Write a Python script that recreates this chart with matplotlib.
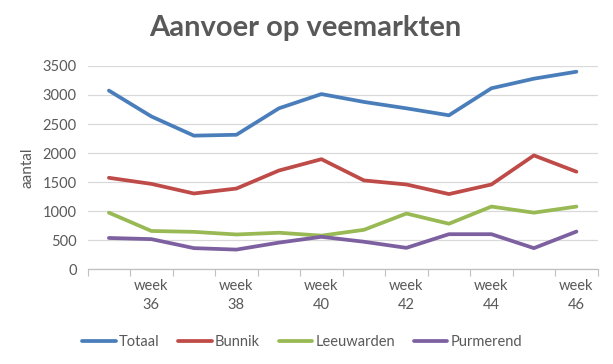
import numpy as np
import matplotlib.pyplot as plt

plt.rcParams['font.family'] = ['Lato', 'DejaVu Sans']

weeks = list(range(35, 47))
totaal = [3075, 2630, 2300, 2315, 2770, 3015, 2880, 2770, 2650, 3115, 3280, 3400]
bunnik = [1575, 1470, 1305, 1390, 1700, 1895, 1530, 1460, 1295, 1460, 1960, 1680]
leeuwarden = [975, 660, 645, 600, 630, 580, 680, 960, 785, 1080, 975, 1080]
purmerend = [540, 520, 365, 340, 460, 560, 475, 370, 605, 605, 365, 650]

series = [
    ("Totaal", totaal, "#4A7EBB"),
    ("Bunnik", bunnik, "#BE4B48"),
    ("Leeuwarden", leeuwarden, "#98B954"),
    ("Purmerend", purmerend, "#7D60A0"),
]

text_col = "#595959"

fig = plt.figure(figsize=(6.13, 3.64), dpi=100)
ax = fig.add_axes([0.143, 0.260, 0.832, 0.559])

x = np.arange(len(weeks))
for name, vals, col in series:
    ax.plot(x, vals, color=col, lw=2.7, label=name, solid_capstyle="round", solid_joinstyle="round")

ax.set_ylim(0, 3500)
ax.set_yticks(range(0, 3501, 500))
ax.set_xlim(-0.5, len(weeks) - 0.5)

# labels only for even weeks
ax.set_xticks(x[1::2])
ax.set_xticklabels([f"week\n{w}" for w in weeks[1::2]], linespacing=1.45)
ax.set_xticks(np.arange(-0.5, len(weeks), 1), minor=True)
ax.tick_params(axis="x", which="major", length=0, pad=7, labelsize=10.5, colors=text_col)
ax.tick_params(axis="x", which="minor", length=5, color="#BFBFBF", width=0.8)
ax.tick_params(axis="y", length=0, pad=8, labelsize=10.5, colors=text_col)

ax.grid(axis="y", color="#D9D9D9", lw=0.9)
ax.set_axisbelow(True)
for s in ["top", "right", "left"]:
    ax.spines[s].set_visible(False)
ax.spines["bottom"].set_color("#BFBFBF")
ax.spines["bottom"].set_linewidth(0.9)

ax.set_ylabel("aantal", fontsize=11, color=text_col, labelpad=6)

fig.text(0.498, 0.922, "Aanvoer op veemarkten", ha="center", va="center",
         fontsize=21, fontweight="bold", color=text_col)

leg = fig.legend(loc="center", bbox_to_anchor=(0.493, 0.06), ncol=4, frameon=False,
                 fontsize=10.5, handlelength=2.3, handletextpad=0.2, columnspacing=1.3)
for t in leg.get_texts():
    t.set_color(text_col)

fig.savefig("out.png", dpi=100)
